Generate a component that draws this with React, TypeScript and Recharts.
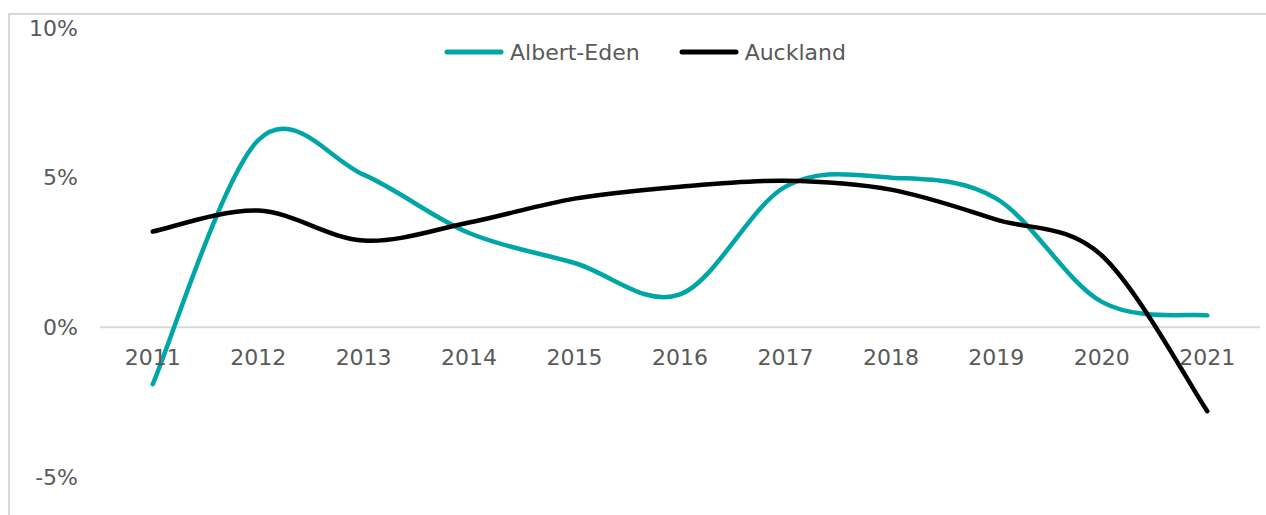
import React from 'react'
import { LineChart, Line, XAxis, YAxis, ReferenceLine, Legend } from 'recharts'

const years = ['2011', '2012', '2013', '2014', '2015', '2016', '2017', '2018', '2019', '2020', '2021']
const albertEden = [-1.9, 6.25, 5.1, 3.15, 2.15, 1.1, 4.7, 5.0, 4.3, 0.85, 0.4]
const auckland = [3.2, 3.9, 2.9, 3.5, 4.3, 4.7, 4.9, 4.6, 3.6, 2.4, -2.8]
const yTicks = [-5, 0, 5, 10]

const data = years.map((year, i) => ({ year, albertEden: albertEden[i], auckland: auckland[i] }))

const FONT = '"DejaVu Sans", sans-serif'
const TEXT = '#595959'

// Excel-style smoothed line (Catmull-Rom through every point)
const excelSmooth = (context: any) => {
  let pts: number[][] = []
  return {
    areaStart() {},
    areaEnd() {},
    lineStart() { pts = [] },
    point(x: number, y: number) { pts.push([+x, +y]) },
    lineEnd() {
      if (!pts.length) return
      context.moveTo(pts[0][0], pts[0][1])
      for (let i = 0; i < pts.length - 1; i++) {
        const p0 = pts[i - 1] || pts[i]
        const p1 = pts[i]
        const p2 = pts[i + 1]
        const p3 = pts[i + 2] || p2
        context.bezierCurveTo(
          p1[0] + (p2[0] - p0[0]) / 6, p1[1] + (p2[1] - p0[1]) / 6,
          p2[0] - (p3[0] - p1[0]) / 6, p2[1] - (p3[1] - p1[1]) / 6,
          p2[0], p2[1]
        )
      }
    },
  }
}

const LegendContent = ({ payload }: any) => (
  <div style={{ display: 'flex', alignItems: 'center', height: 30, fontFamily: FONT, fontSize: 22, color: TEXT }}>
    {(payload || []).map((p: any, i: number) => (
      <div key={i} style={{ display: 'flex', alignItems: 'center', marginRight: 39 }}>
        <svg width={60} height={10} style={{ marginRight: 6 }}>
          <line x1={3} y1={5} x2={57} y2={5} stroke={p.color} strokeWidth={5} strokeLinecap="round" />
        </svg>
        <span>{p.value}</span>
      </div>
    ))}
  </div>
)

export default function App() {
  return (
    <div style={{
      position: 'absolute', left: 8, top: 13, width: 1258, height: 502,
      borderTop: '2px solid #d9d9d9', borderLeft: '2px solid #d9d9d9', boxSizing: 'border-box',
      background: '#fff', overflow: 'hidden',
    }}>
      <LineChart width={1256} height={500} data={data} margin={{ top: 13, right: 6, bottom: 0, left: 0 }}>
        <YAxis
          domain={[-5, 10]}
          ticks={yTicks}
          tickFormatter={(v: number) => `${v}%`}
          width={90}
          axisLine={false}
          tickLine={false}
          tickMargin={16}
          tick={{ fontSize: 22, fill: TEXT, fontFamily: FONT }}
        />
        <XAxis
          dataKey="year"
          scale="band"
          height={38}
          axisLine={false}
          tickLine={false}
          interval={0}
          tick={{ fontSize: 22, fill: TEXT, fontFamily: FONT, dy: -136 }}
        />
        <ReferenceLine y={0} stroke="#d9d9d9" strokeWidth={2} />
        <Legend
          layout="horizontal"
          verticalAlign="middle"
          align="center"
          content={<LegendContent />}
          wrapperStyle={{ left: 434, top: 22, width: 'auto', height: 30 }}
        />
        <Line
          name="Albert-Eden"
          dataKey="albertEden"
          type={excelSmooth as any}
          stroke="#00a6a6"
          strokeWidth={4.5}
          strokeLinecap="round"
          dot={false}
          isAnimationActive={false}
        />
        <Line
          name="Auckland"
          dataKey="auckland"
          type={excelSmooth as any}
          stroke="#000000"
          strokeWidth={4.5}
          strokeLinecap="round"
          dot={false}
          isAnimationActive={false}
        />
      </LineChart>
    </div>
  )
}
